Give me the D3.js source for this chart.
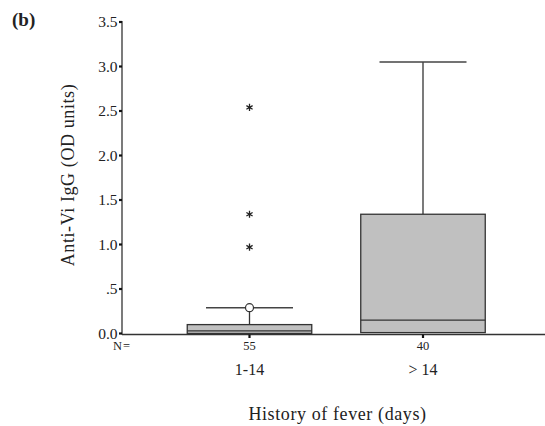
<!DOCTYPE html>
<head>
  <meta charset="utf-8" />
  <script src="https://d3js.org/d3.v7.min.js"></script>
  <style>
    body { margin: 0; background: #fff; }
    text { font-family: "Liberation Serif", "Times New Roman", serif; fill: #222; }
  </style>
</head>
<body>
  <script>
    // donnees
    var categories = ["1-14", "> 14"];
    var counts = [55, 40];
    var q1 = [0.0, 0.01];
    var medians = [0.03, 0.15];
    var q3 = [0.10, 1.34];
    var whiskerLow = [0.0, 0.01];
    var whiskerHigh = [0.29, 3.05];
    // valeurs aberrantes : cercle (o) et extremes (*)
    var outlierCat = ["1-14"];
    var outlierVal = [0.29];
    var extremeCat = ["1-14", "1-14", "1-14"];
    var extremeVal = [2.54, 1.34, 0.97];
    var yTicks = [0, 0.5, 1.0, 1.5, 2.0, 2.5, 3.0, 3.5];
    var yTickLabels = ["0.0", ".5", "1.0", "1.5", "2.0", "2.5", "3.0", "3.5"];

    var width = 545, height = 426;
    var svg = d3.select("body").append("svg")
      .attr("width", width).attr("height", height);

    var y = d3.scaleLinear().domain([0, 3.5]).range([333.5, 22]);
    var x = d3.scalePoint().domain(categories).range([249.5, 423]);
    var boxW = 124.5;
    var capW = 87;
    var axisX = 122;

    // axe y
    svg.append("line").attr("x1", axisX).attr("x2", axisX)
      .attr("y1", y(3.5) - 1).attr("y2", y(0) + 1)
      .attr("stroke", "#333").attr("stroke-width", 1.3);
    var yt = svg.append("g");
    yt.selectAll("line").data(yTicks).join("line")
      .attr("x1", axisX - 3).attr("x2", axisX)
      .attr("y1", d => y(d)).attr("y2", d => y(d))
      .attr("stroke", "#111").attr("stroke-width", 2.2);
    yt.selectAll("text").data(yTicks).join("text")
      .attr("x", axisX - 4.5).attr("y", d => y(d) + 5)
      .attr("text-anchor", "end").attr("font-size", 15.5)
      .text((d, i) => yTickLabels[i]);

    // axe x
    svg.append("line").attr("x1", axisX).attr("x2", width)
      .attr("y1", 334.5).attr("y2", 334.5)
      .attr("stroke", "#333").attr("stroke-width", 1.3);
    svg.selectAll(".xtick").data(categories).join("line")
      .attr("class", "xtick")
      .attr("x1", d => x(d)).attr("x2", d => x(d))
      .attr("y1", 334.5).attr("y2", 338)
      .attr("stroke", "#111").attr("stroke-width", 2.2);

    // boites
    var g = svg.append("g");
    categories.forEach(function (c, i) {
      var cx = x(c);
      g.append("line").attr("x1", cx).attr("x2", cx)
        .attr("y1", y(q3[i])).attr("y2", y(whiskerHigh[i]))
        .attr("stroke", "#333").attr("stroke-width", 1.3);
      g.append("line").attr("x1", cx - capW / 2).attr("x2", cx + capW / 2)
        .attr("y1", y(whiskerHigh[i])).attr("y2", y(whiskerHigh[i]))
        .attr("stroke", "#444").attr("stroke-width", 1.5);
      g.append("rect").attr("x", cx - boxW / 2).attr("width", boxW)
        .attr("y", y(q3[i])).attr("height", y(q1[i]) - y(q3[i]))
        .attr("fill", "#c0c0c0").attr("stroke", "#333").attr("stroke-width", 1.3);
      g.append("line").attr("x1", cx - boxW / 2).attr("x2", cx + boxW / 2)
        .attr("y1", y(medians[i])).attr("y2", y(medians[i]))
        .attr("stroke", "#333").attr("stroke-width", 1.3);
      svg.append("text").attr("x", cx).attr("y", 350)
        .attr("text-anchor", "middle").attr("font-size", 12.5)
        .text(counts[i]);
      svg.append("text").attr("x", cx).attr("y", 375)
        .attr("text-anchor", "middle").attr("font-size", 16)
        .text(c);
    });

    g.selectAll(".outlier").data(outlierVal).join("circle")
      .attr("class", "outlier")
      .attr("cx", (d, i) => x(outlierCat[i])).attr("cy", d => y(d))
      .attr("r", 4).attr("fill", "#fff").attr("stroke", "#333").attr("stroke-width", 1.2);

    g.selectAll(".extreme").data(extremeVal).join("path")
      .attr("class", "extreme")
      .attr("transform", (d, i) => "translate(" + x(extremeCat[i]) + "," + y(d) + ")")
      .attr("d", d3.symbol().type(d3.symbolAsterisk).size(36))
      .attr("fill", "none").attr("stroke", "#222").attr("stroke-width", 1.3);

    // textes
    svg.append("text").attr("x", 113).attr("y", 350)
      .attr("font-size", 12.5).attr("letter-spacing", 1).text("N=");
    svg.append("text").attr("x", 337.5).attr("y", 420)
      .attr("text-anchor", "middle").attr("font-size", 18)
      .attr("letter-spacing", 0.6)
      .text("History of fever (days)");
    svg.append("text")
      .attr("transform", "translate(74,175) rotate(-90)")
      .attr("text-anchor", "middle").attr("font-size", 18)
      .attr("letter-spacing", 0.6)
      .text("Anti-Vi IgG (OD units)");
    svg.append("text").attr("x", 12).attr("y", 26)
      .attr("font-size", 19).attr("font-weight", "bold")
      .text("(b)");
  </script>
</body>
